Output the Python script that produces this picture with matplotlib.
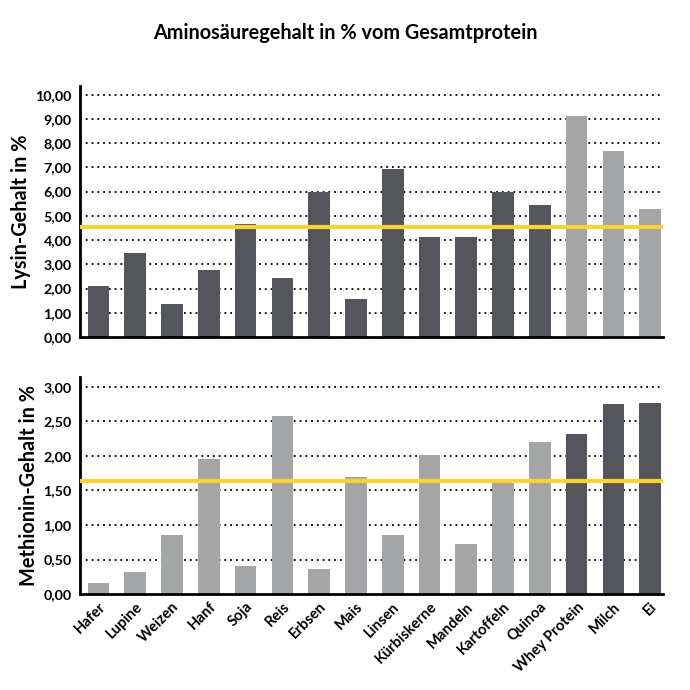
import numpy as np
import matplotlib
matplotlib.use("Agg")
from matplotlib import pyplot as plt
from matplotlib.ticker import FuncFormatter

plt.rcParams['font.family'] = ['Lato', 'DejaVu Sans']

foods = ['Hafer', 'Lupine', 'Weizen', 'Hanf', 'Soja', 'Reis', 'Erbsen', 'Mais',
         'Linsen', 'Kürbiskerne', 'Mandeln', 'Kartoffeln', 'Quinoa',
         'Whey Protein', 'Milch', 'Ei']
lysin = [2.1, 3.45, 1.35, 2.75, 4.68, 2.45, 5.97, 1.55,
         6.92, 4.13, 4.13, 6.0, 5.43, 9.13, 7.68, 5.3]
methionin = [0.16, 0.32, 0.85, 1.96, 0.4, 2.58, 0.37, 1.7,
             0.85, 2.01, 0.73, 1.62, 2.2, 2.32, 2.75, 2.77]
lysin_ref = 4.55
methionin_ref = 1.63

dark = '#55565b'
light = '#a4a5a7'
yellow = '#f8d334'

# top chart: plant sources dark, animal sources light; bottom chart the other way round
animal = np.array([f in ('Whey Protein', 'Milch', 'Ei') for f in foods])
top_colors = [light if a else dark for a in animal]
bot_colors = [dark if a else light for a in animal]

fmt = FuncFormatter(lambda v, p: f'{v:.2f}'.replace('.', ','))

fig = plt.figure(figsize=(6.9, 6.9), dpi=100)
ax1 = fig.add_axes([0.116, 0.5116, 0.845, 0.3636])
ax2 = fig.add_axes([0.116, 0.139, 0.845, 0.3146])

x = np.arange(len(foods))


def style(ax, ticks, top, ref, label):
    ax.set_ylim(0, top)
    ax.set_xlim(-0.5, len(foods) - 0.65)
    ax.set_yticks(ticks)
    ax.yaxis.set_major_formatter(fmt)
    for t in ticks[1:]:
        ax.axhline(t, color='black', lw=1.3, ls=(0, (1, 2.2)), zorder=0)
    ax.axhline(ref, color=yellow, lw=3, zorder=3)
    for s in ('top', 'right'):
        ax.spines[s].set_visible(False)
    for s in ('left', 'bottom'):
        ax.spines[s].set_linewidth(2)
    ax.tick_params(axis='y', length=0, pad=6, labelsize=10.3)
    ax.tick_params(axis='x', length=0)
    for lab in ax.get_yticklabels():
        lab.set_fontweight('bold')
    ax.set_ylabel(label, fontsize=14.3, fontweight='bold', labelpad=3)


ax1.bar(x, lysin, width=0.59, color=top_colors, zorder=2)
style(ax1, np.arange(0, 10.01, 1), 10.35, lysin_ref, 'Lysin-Gehalt in %')
ax1.set_xticks([])

ax2.bar(x, methionin, width=0.59, color=bot_colors, zorder=2)
style(ax2, np.arange(0, 3.01, 0.5), 3.14, methionin_ref, 'Methionin-Gehalt in %')
ax2.set_xticks(x)
ax2.set_xticklabels(foods, rotation=45, ha='right', rotation_mode='anchor',
                    fontsize=10.6, fontweight='bold')
ax2.tick_params(axis='x', pad=4)

fig.text(0.5, 0.952, 'Aminosäuregehalt in % vom Gesamtprotein', ha='center',
         va='center', fontsize=14.3, fontweight='bold')

fig.savefig('out.png', dpi=100)
